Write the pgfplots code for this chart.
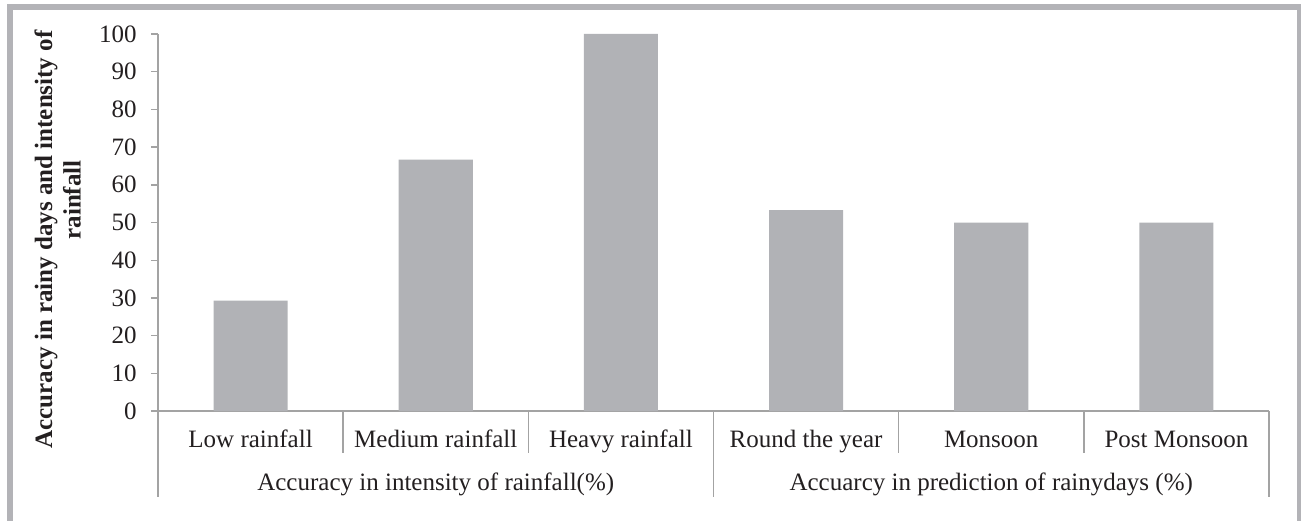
\documentclass[border=0pt]{standalone}
\usepackage{fontspec}
\setmainfont{Liberation Serif}
\usepackage{pgfplots}
\pgfplotsset{compat=1.18}
\definecolor{barc}{HTML}{B1B2B6}
\definecolor{axc}{HTML}{A3A3A3}
\definecolor{txt}{HTML}{231F20}
\definecolor{framec}{HTML}{B3B3B7}
\newcommand{\cf}{\fontsize{12.5pt}{15pt}\selectfont}
\begin{document}
\begin{tikzpicture}[x=1pt,y=1pt]
\useasboundingbox (-79,-54.5) rectangle (571.5,205.5);
\draw[framec, line width=2.8pt] (-74,-70) -- (-74,202) -- (570.75,202) -- (570.75,-70);
\begin{axis}[
  at={(0,0)}, anchor=south west,
  scale only axis, width=555.5pt, height=188.5pt,
  xmin=0, xmax=6, ymin=0, ymax=100,
  axis x line*=bottom, axis y line*=left,
  axis line style={axc, line width=0.7pt},
  clip=false,
  ytick={0,10,...,100},
  ytick style={axc, line width=0.7pt},
  tick align=outside,
  major tick length=3.5pt,
  xtick={0.5,1.5,...,5.5},
  xticklabels={Low rainfall, Medium rainfall, Heavy rainfall, Round the year, Monsoon, Post Monsoon},
  x tick style={draw=none},
  /pgf/number format/assume math mode=true,
  tick label style={font=\cf, text=txt},
  xticklabel style={anchor=base, yshift=-14.8pt},
  yticklabel style={anchor=east, inner sep=0pt, xshift=-7pt},
]
\addplot[ybar, bar width=0.4, fill=barc, draw=none] coordinates {(0.5,29.3) (1.5,66.7) (2.5,100) (3.5,53.3) (4.5,50) (5.5,50)};
\foreach \s in {1,2,4,5} {
  \edef\tmp{\noexpand\draw[axc, line width=0.7pt] (axis cs:\s,0) -- ++(0,-21pt);}\tmp
}
\foreach \s in {0,3,6} {
  \edef\tmp{\noexpand\draw[axc, line width=0.7pt] (axis cs:\s,0) -- ++(0,-43pt);}\tmp
}
\node[anchor=base, font=\cf, text=txt] at ([yshift=-39.5pt]axis cs:1.5,0) {Accuracy in intensity of rainfall(\%)};
\node[anchor=base, font=\cf, text=txt] at ([yshift=-39.5pt]axis cs:4.5,0) {Accuarcy in prediction of rainydays (\%)};
\path (axis cs:0,45.5) ++(-56pt,0) node[rotate=90, font=\cf\bfseries, text=txt] {Accuracy in rainy days and intensity of};
\path (axis cs:0,56) ++(-43pt,0) node[rotate=90, font=\cf\bfseries, text=txt] {rainfall};
\end{axis}
\end{tikzpicture}
\end{document}
